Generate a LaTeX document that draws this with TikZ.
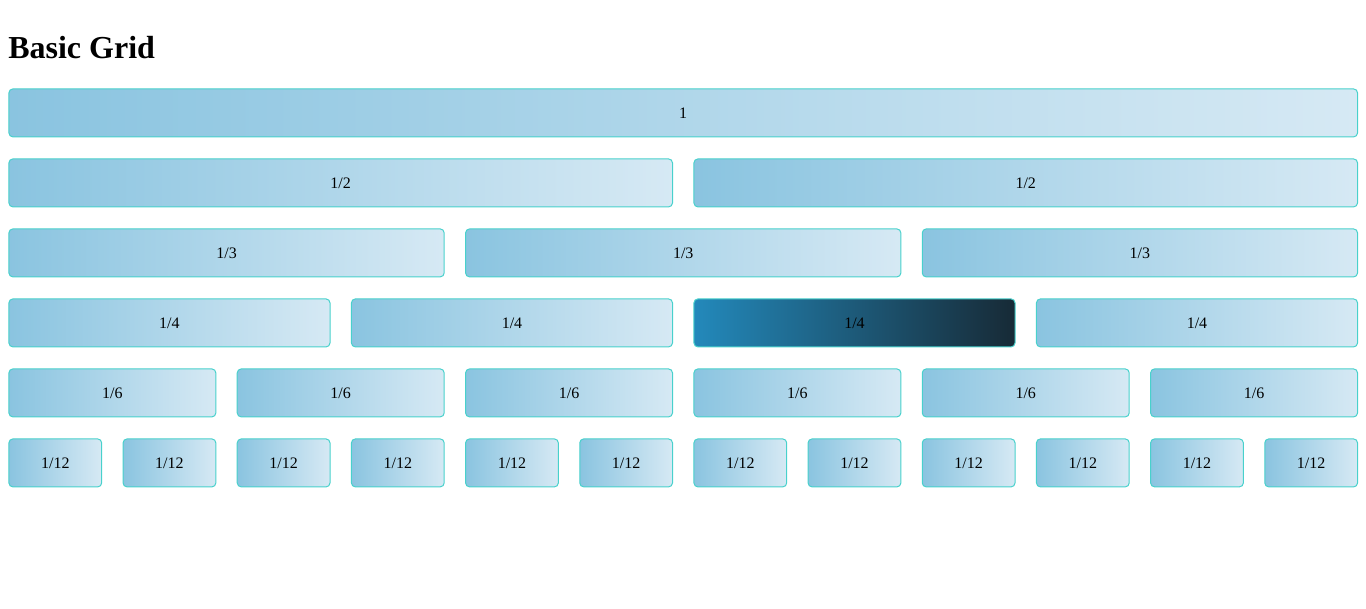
\documentclass[tikz,border=0pt]{standalone}
\usepackage{fontspec}
\setmainfont{Liberation Serif}
\definecolor{gA}{HTML}{8AC4E0}
\definecolor{gB}{HTML}{D6E9F4}
\definecolor{dA}{HTML}{2389BB}
\definecolor{dB}{HTML}{172A36}
\definecolor{bd}{HTML}{48D1CC}
\tikzset{
  cell/.style={draw=bd, line width=0.75pt, rounded corners=3pt, inner sep=0pt,
    font=\fontsize{12}{14}\selectfont, text=black, anchor=north west},
  tone0/.style={left color=gA, right color=gB},
  tone1/.style={left color=dA, right color=dB},
}
\begin{document}
\begin{tikzpicture}[x=0.75pt,y=-0.75pt]
\useasboundingbox (0,0) rectangle (1366,608);
\node[anchor=base west, font=\bfseries\fontsize{24}{28}\selectfont, inner sep=0pt] (title) at (8,58) {Basic Grid};
\foreach \r/\s in {0/12,1/6,2/4,3/3,4/2,5/1} {
  \pgfmathtruncatemacro\n{12/\s}
  \pgfmathtruncatemacro\last{\n-1}
  \foreach \i in {0,...,\last} {
    \pgfmathsetmacro\xl{8.4+\i*\s*114.17}
    \pgfmathsetmacro\w{(\s*114.17-21.4)*0.75}
    \pgfmathsetmacro\y{88.4+70*\r}
    \pgfmathtruncatemacro\isdark{and(\n==4,\i==2)}
    \ifnum\n=1 \def\lab{1}\else\edef\lab{1/\n}\fi
    \node[cell, tone\isdark, minimum width=\w pt, minimum height=36pt] (c\n-\i) at (\xl,\y) {\lab};
  }
}
\end{tikzpicture}
\end{document}
